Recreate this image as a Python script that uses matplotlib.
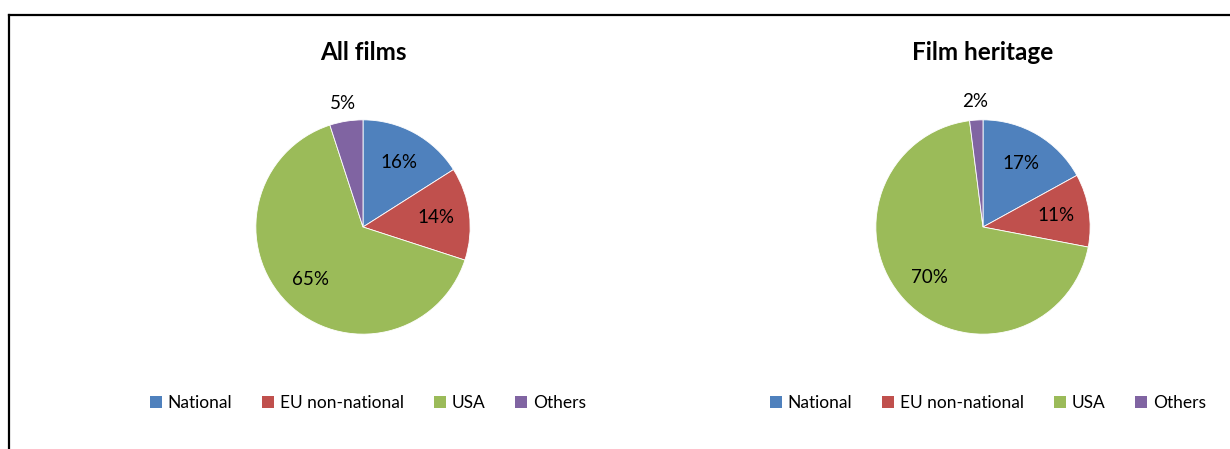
import matplotlib
matplotlib.use("Agg")
import matplotlib.pyplot as plt
from matplotlib.patches import Patch
from matplotlib.lines import Line2D

plt.rcParams['font.family'] = ['Lato', 'DejaVu Sans']

categories = ["National", "EU non-national", "USA", "Others"]
colors = ["#4F81BD", "#C0504D", "#9BBB59", "#8064A2"]

titles = ["All films", "Film heritage"]
all_films = [16, 14, 65, 5]
film_heritage = [17, 11, 70, 2]

W, H = 1230, 449
fig = plt.figure(figsize=(W / 100, H / 100), dpi=100)


def draw_pie(values, title, cx, cy):
    # square axes of 300 px with limits +-1.4 -> unit radius ~107 px
    size = 300
    ax = fig.add_axes([(cx - size / 2) / W, (H - cy - size / 2) / H, size / W, size / H])
    wedges, texts, autotexts = ax.pie(
        values, colors=colors, startangle=90, counterclock=False,
        autopct=lambda p: f"{p:.0f}%", pctdistance=0.69,
        wedgeprops=dict(linewidth=0.6, edgecolor="white"),
        textprops=dict(fontsize=13.5, color="black"))
    # the smallest slice gets its label outside the pie
    x, y = autotexts[-1].get_position()
    autotexts[-1].set_position((x * 1.17 / 0.69, y * 1.17 / 0.69))
    ax.set_xlim(-1.4, 1.4)
    ax.set_ylim(-1.4, 1.4)
    ax.set_aspect("equal")
    ax.axis("off")
    fig.text(cx / W, 1 - 52 / H, title, ha="center", va="center",
             fontsize=17.5, fontweight="bold")
    handles = [Patch(facecolor=c, edgecolor="none") for c in colors]
    fig.legend(handles, categories, loc="center", ncol=4,
               bbox_to_anchor=((cx + 5) / W, 1 - 403 / H), frameon=False,
               fontsize=12.5, handlelength=0.7, handleheight=0.7,
               handletextpad=0.35, columnspacing=1.7)


draw_pie(all_films, titles[0], 363, 227)
draw_pie(film_heritage, titles[1], 983, 227)

# outer frame: top and left edges
fig.add_artist(Line2D([9 / W, 1.0], [1 - 15 / H, 1 - 15 / H], color="black", lw=1.6))
fig.add_artist(Line2D([9 / W, 9 / W], [0.0, 1 - 15 / H], color="black", lw=1.6))

fig.savefig("out.png", dpi=100)
